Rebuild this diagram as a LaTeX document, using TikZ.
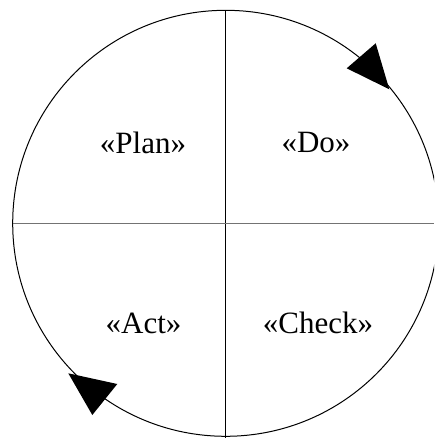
\documentclass[tikz,border=0pt]{standalone}
\usepackage{fontspec}
\setmainfont{Liberation Serif}
\begin{document}
\begin{tikzpicture}[x=1pt,y=-1pt,
  label/.style={font=\fontsize{31}{37}\selectfont, inner sep=0pt},
  ring/.style={line width=1pt, black},
  axisv/.style={line width=1pt, black},
  axish/.style={line width=1pt, black!55},
  head/.style={fill=black, draw=none}]
\useasboundingbox (0,0) rectangle (434,438);
\clip (0,0) rectangle (434,438);
\fill[white] (0,0) rectangle (434,438);
\coordinate (c) at (225.7,223.3);
\coordinate (top) at (225.7,10.8);
\coordinate (bot) at (225.7,438);
\coordinate (left) at (13.2,223.3);
\coordinate (right) at (434,223.3);
\draw[ring] (c) circle[radius=213pt];
\draw[axisv] (top) -- (bot);
\draw[axish] (left) -- (right);
\fill[head] (389.3,89.3) -- (375.7,43.3) -- (346.7,68.3) -- cycle;
\fill[head] (68.3,373.3) -- (117.3,384) -- (92.3,415) -- cycle;
\node[label] (plan) at (143,143) {«Plan»};
\node[label] (do) at (316,143) {«Do»};
\node[label] (act) at (143.5,323) {«Act»};
\node[label] (check) at (318,323) {«Check»};
\end{tikzpicture}
\end{document}
